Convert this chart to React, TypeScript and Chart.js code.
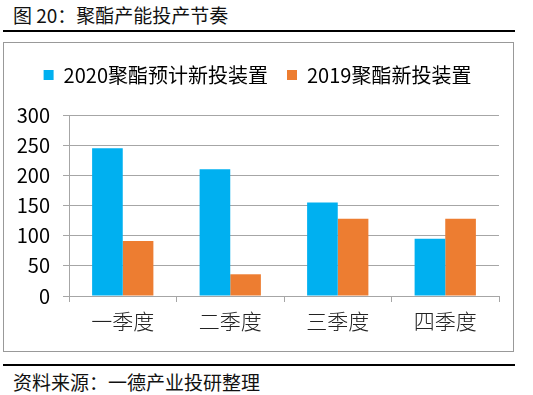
import React, { useEffect, useRef } from "react";
import { Chart, registerables } from "chart.js";
Chart.register(...registerables);

const titleText = "图 20：聚酯产能投产节奏";
const sourceText = "资料来源：一德产业投研整理";
const categories = ["一季度", "二季度", "三季度", "四季度"];
const seriesNames = ["2020聚酯预计新投装置", "2019聚酯新投装置"];
const values2020 = [245, 210, 155, 95];
const values2019 = [91, 36, 128, 128];
const yMin = 0;
const yMax = 300;
const yStep = 50;

const FONT = '"Noto Sans CJK SC", "Noto Sans", sans-serif';

const legendGap = {
  id: "legendGap",
  beforeInit(chart: any) {
    const orig = chart.legend.fit;
    chart.legend.fit = function () {
      orig.bind(this)();
      this.height += 20;
    };
  },
  afterLayout(chart: any) {
    chart.legend.left += 6;
    chart.legend.right += 6;
  },
};

export default function App() {
  const ref = useRef<HTMLCanvasElement | null>(null);
  useEffect(() => {
    if (!ref.current) return;
    const chart = new Chart(ref.current, {
      type: "bar",
      data: {
        labels: categories,
        datasets: [
          { label: seriesNames[0], data: values2020, backgroundColor: "#00B0F0", borderWidth: 0 },
          { label: seriesNames[1], data: values2019, backgroundColor: "#ED7D31", borderWidth: 0 },
        ],
      },
      plugins: [legendGap],
      options: {
        responsive: false,
        animation: false,
        devicePixelRatio: 1,
        layout: { padding: { top: 3, right: 13, left: 0, bottom: 0 } },
        datasets: { bar: { categoryPercentage: 0.57, barPercentage: 1 } },
        plugins: {
          tooltip: { enabled: false },
          legend: {
            position: "top",
            labels: {
              boxWidth: 10,
              boxHeight: 10,
              padding: 19,
              color: "#000",
              font: { family: FONT, size: 20 },
            },
          },
        },
        scales: {
          x: {
            grid: { display: true, drawOnChartArea: false, drawTicks: true, tickLength: 6, color: "#A6A6A6", offset: true },
            border: { display: true, color: "#A6A6A6", width: 1 },
            ticks: { color: "#222", padding: 6, font: { family: FONT, size: 21, weight: 300 } },
            afterFit: (s: any) => { s.height = 55; },
          },
          y: {
            min: yMin,
            max: yMax,
            ticks: { stepSize: yStep, color: "#000", padding: 13, font: { family: FONT, size: 20 } },
            grid: { color: "#A6A6A6", tickLength: 6, drawTicks: true },
            border: { display: true, color: "#A6A6A6", width: 1 },
            afterFit: (s: any) => { s.width = 65; },
          },
        },
      },
    } as any);
    return () => chart.destroy();
  }, []);

  return (
    <div style={{ position: "absolute", left: 0, top: 0, width: 533, height: 395, background: "#fff", fontFamily: FONT, overflow: "hidden" }}>
      <div style={{ position: "absolute", left: 13, top: 3, fontSize: 19, lineHeight: "24px", color: "#111", whiteSpace: "nowrap" }}>{titleText}</div>
      <div style={{ position: "absolute", left: 3, top: 30, width: 512, height: 2, background: "#000" }} />
      <div style={{ position: "absolute", left: 3, top: 42, width: 509, height: 308, border: "1px solid #999" }} />
      <canvas ref={ref} width={508} height={308} style={{ position: "absolute", left: 4, top: 43, width: 508, height: 308 }} />
      <div style={{ position: "absolute", left: 3, top: 364, width: 512, height: 2, background: "#000" }} />
      <div style={{ position: "absolute", left: 13, top: 370, fontSize: 19, lineHeight: "24px", color: "#111", whiteSpace: "nowrap" }}>{sourceText}</div>
    </div>
  );
}
